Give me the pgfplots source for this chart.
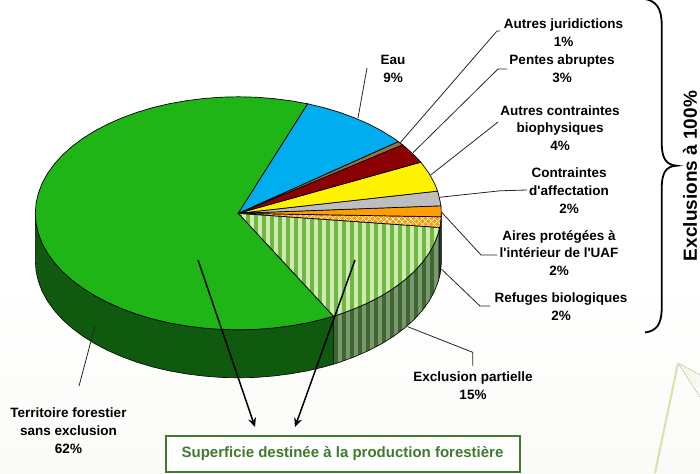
\documentclass[border=0pt]{standalone}
\usepackage{pgfplots}
\pgfplotsset{compat=1.18}
\usepackage{fontspec}
\setmainfont{Liberation Sans}
\newfontfamily\lib{Liberation Sans}
\usetikzlibrary{patterns.meta,arrows.meta}
\definecolor{cGreen}{HTML}{1FB516}
\definecolor{cDark}{HTML}{0F5A0E}
\definecolor{cBlue}{HTML}{00ADEF}
\definecolor{cBrown}{HTML}{A0703C}
\definecolor{cRed}{HTML}{8B0000}
\definecolor{cYellow}{HTML}{FFF200}
\definecolor{cGray}{HTML}{BEBEBE}
\definecolor{cOrange}{HTML}{FF9E00}
\definecolor{cLight}{HTML}{CFEBB4}
\definecolor{cStripe}{HTML}{70B840}
\definecolor{cWallA}{HTML}{7E9472}
\definecolor{cWallB}{HTML}{3C6A2E}
\definecolor{cBox}{HTML}{3F7A2D}
\definecolor{cBg}{HTML}{FAFAF7}
\definecolor{cDeco}{HTML}{D4E4A8}
\tikzset{lab/.style={font=\lib\bfseries\fontsize{13.5}{17.8}\selectfont,align=center,text=black,inner sep=0pt},
  lead/.style={draw=black!85,line width=0.8pt}}
\begin{document}
\begin{tikzpicture}
\begin{axis}[scale only axis,width=700pt,height=473pt,xmin=0,xmax=700,ymin=0,ymax=473,y dir=reverse,hide axis,clip=true]
% background
\fill[top color=white,bottom color=cBg,draw=none] (axis cs:0,280) rectangle (axis cs:700,473);
\fill[left color=cDeco!40,right color=cBg,draw=none] (axis cs:678,363) -- (axis cs:700,397) -- (axis cs:700,375) -- cycle;
\addplot[draw=cDeco,line width=2pt] coordinates {(678,363)(655,473)};
% walls
\addplot[fill=cDark,draw=black,line width=0.6pt] coordinates {(35.3,213.3)(36.1,223.5)(38.4,233.5)(42.2,243.5)(47.5,253.1)(54.3,262.5)(62.5,271.6)(72.0,280.1)(82.8,288.2)(94.8,295.7)(107.8,302.5)(121.9,308.7)(136.8,314.2)(152.5,318.9)(168.9,322.8)(185.8,325.8)(203.1,328.0)(220.6,329.4)(238.3,329.8)(256.0,329.4)(273.5,328.0)(290.8,325.8)(307.7,322.8)(324.1,318.9)(333.6,316.2)(333.6,364.2)(324.1,366.9)(307.7,370.8)(290.8,373.8)(273.5,376.0)(256.0,377.4)(238.3,377.8)(220.6,377.4)(203.1,376.0)(185.8,373.8)(168.9,370.8)(152.5,366.9)(136.8,362.2)(121.9,356.7)(107.8,350.5)(94.8,343.7)(82.8,336.2)(72.0,328.1)(62.5,319.6)(54.3,310.5)(47.5,301.1)(42.2,291.5)(38.4,281.5)(36.1,271.5)(35.3,261.3)} --cycle;
\addplot[fill=cWallA,draw=none] coordinates {(333.6,316.2)(339.8,314.2)(354.7,308.7)(368.8,302.5)(381.8,295.7)(393.8,288.2)(404.6,280.1)(414.1,271.6)(422.3,262.5)(429.1,253.1)(434.4,243.5)(438.2,233.5)(439.8,227.5)(439.8,275.5)(438.2,281.5)(434.4,291.5)(429.1,301.1)(422.3,310.5)(414.1,319.6)(404.6,328.1)(393.8,336.2)(381.8,343.7)(368.8,350.5)(354.7,356.7)(339.8,362.2)(333.6,364.2)} --cycle;
\addplot[pattern={Lines[angle=90,distance=8pt,line width=4.6pt]},pattern color=cWallB,draw=black,line width=0.6pt] coordinates {(333.6,316.2)(339.8,314.2)(354.7,308.7)(368.8,302.5)(381.8,295.7)(393.8,288.2)(404.6,280.1)(414.1,271.6)(422.3,262.5)(429.1,253.1)(434.4,243.5)(438.2,233.5)(439.8,227.5)(439.8,275.5)(438.2,281.5)(434.4,291.5)(429.1,301.1)(422.3,310.5)(414.1,319.6)(404.6,328.1)(393.8,336.2)(381.8,343.7)(368.8,350.5)(354.7,356.7)(339.8,362.2)(333.6,364.2)} --cycle;
\addplot[fill=black!80,draw=black,line width=0.6pt] coordinates {(439.8,227.5)(440.5,223.5)(441.2,216.8)(441.3,213.3)(441.3,261.3)(441.2,264.8)(440.5,271.5)(439.8,275.5)} --cycle;
% top slices
\addplot[fill=cGreen,draw=black,line width=0.7pt] coordinates {(238.3,213.3)(307.7,103.8)(290.8,100.8)(273.5,98.6)(256.0,97.2)(238.3,96.8)(220.6,97.2)(203.1,98.6)(185.8,100.8)(168.9,103.8)(152.5,107.7)(136.8,112.4)(121.9,117.9)(107.8,124.1)(94.8,130.9)(82.8,138.4)(72.0,146.5)(62.5,155.0)(54.3,164.1)(47.5,173.5)(42.2,183.1)(38.4,193.1)(36.1,203.1)(35.3,213.3)(36.1,223.5)(38.4,233.5)(42.2,243.5)(47.5,253.1)(54.3,262.5)(62.5,271.6)(72.0,280.1)(82.8,288.2)(94.8,295.7)(107.8,302.5)(121.9,308.7)(136.8,314.2)(152.5,318.9)(168.9,322.8)(185.8,325.8)(203.1,328.0)(220.6,329.4)(238.3,329.8)(256.0,329.4)(273.5,328.0)(290.8,325.8)(307.7,322.8)(324.1,318.9)(333.6,316.2)} --cycle;
\addplot[fill=cLight,draw=none] coordinates {(238.3,213.3)(333.6,316.2)(339.8,314.2)(354.7,308.7)(368.8,302.5)(381.8,295.7)(393.8,288.2)(404.6,280.1)(414.1,271.6)(422.3,262.5)(429.1,253.1)(434.4,243.5)(438.2,233.5)(439.8,227.5)} --cycle;
\addplot[pattern={Lines[angle=90,distance=8pt,line width=3.6pt]},pattern color=cStripe,draw=black,line width=0.7pt] coordinates {(238.3,213.3)(333.6,316.2)(339.8,314.2)(354.7,308.7)(368.8,302.5)(381.8,295.7)(393.8,288.2)(404.6,280.1)(414.1,271.6)(422.3,262.5)(429.1,253.1)(434.4,243.5)(438.2,233.5)(439.8,227.5)} --cycle;
\addplot[fill=cOrange,draw=none] coordinates {(238.3,213.3)(439.8,227.5)(440.5,223.5)(441.2,216.8)} --cycle;
\addplot[pattern={Lines[angle=45,distance=4pt,line width=0.8pt]},pattern color=white,draw=none] coordinates {(238.3,213.3)(439.8,227.5)(440.5,223.5)(441.2,216.8)} --cycle;
\addplot[pattern={Lines[angle=-45,distance=4pt,line width=0.8pt]},pattern color=white,draw=black,line width=0.7pt] coordinates {(238.3,213.3)(439.8,227.5)(440.5,223.5)(441.2,216.8)} --cycle;
\addplot[fill=cOrange,draw=black,line width=0.7pt] coordinates {(238.3,213.3)(441.2,216.8)(441.3,213.3)(440.9,205.8)} --cycle;
\addplot[fill=cGray,draw=black,line width=0.7pt] coordinates {(238.3,213.3)(440.9,205.8)(440.5,203.1)(438.2,193.1)(437.6,191.1)} --cycle;
\addplot[fill=cYellow,draw=black,line width=0.7pt] coordinates {(238.3,213.3)(437.6,191.1)(434.4,183.1)(429.1,173.5)(422.3,164.1)(420.8,162.2)} --cycle;
\addplot[fill=cRed,draw=black,line width=0.7pt] coordinates {(238.3,213.3)(420.8,162.2)(414.1,155.0)(404.6,146.5)(402.5,144.8)} --cycle;
\addplot[fill=cBrown,draw=black,line width=0.7pt] coordinates {(238.3,213.3)(402.5,144.8)(398.3,141.6)} --cycle;
\addplot[fill=cBlue,draw=black,line width=0.7pt] coordinates {(238.3,213.3)(398.3,141.6)(393.8,138.4)(381.8,130.9)(368.8,124.1)(354.7,117.9)(339.8,112.4)(324.1,107.7)(307.7,103.8)} --cycle;
% leaders
\addplot[lead] coordinates {(358,118)(367,68)};
\addplot[lead] coordinates {(400,143)(497,31)(500,31)};
\addplot[lead] coordinates {(413,152.7)(498,69)(507,69)};
\addplot[lead] coordinates {(430.7,175)(498,122)};
\addplot[lead] coordinates {(439.3,197.3)(500,190.8)(527,190)};
\addplot[lead] coordinates {(441.7,212.3)(481,255)(497,255)};
\addplot[lead] coordinates {(441.3,269)(480,306)(490,306)};
\addplot[lead] coordinates {(407.7,326.7)(472.7,352.3)(472.7,365.7)};
\addplot[lead] coordinates {(95,326)(79,386)};
% arrows
\addplot[black,line width=1.5pt,-{Stealth[length=9pt,width=8pt]}] coordinates {(198,260)(255,427)};
\addplot[black,line width=1.5pt,-{Stealth[length=9pt,width=8pt]}] coordinates {(355,260)(295,427)};
% brace
\draw[black,line width=1.8pt] (axis cs:645,-1) .. controls (axis cs:656,1) and (axis cs:661.7,8) .. (axis cs:661.7,25) -- (axis cs:661.7,143) .. controls (axis cs:661.7,158) and (axis cs:666,165) .. (axis cs:676.7,165.7) .. controls (axis cs:666,166) and (axis cs:661.7,173) .. (axis cs:661.7,188) -- (axis cs:661.7,308) .. controls (axis cs:661.7,325) and (axis cs:656,331) .. (axis cs:645,332.5);
% labels
\node[lab] at (axis cs:563.5,33) {Autres juridictions\\1\%};
\node[lab] at (axis cs:562,69) {Pentes abruptes\\3\%};
\node[lab] at (axis cs:560,128) {Autres contraintes\\biophysiques\\4\%};
\node[lab] at (axis cs:569,190.5) {Contraintes\\d'affectation\\2\%};
\node[lab] at (axis cs:559,253) {Aires protégées à\\l'intérieur de l'UAF\\2\%};
\node[lab] at (axis cs:561,307) {Refuges biologiques\\2\%};
\node[lab] at (axis cs:473,386) {Exclusion partielle\\15\%};
\node[lab] at (axis cs:393,69) {Eau\\9\%};
\node[lab] at (axis cs:68.5,430.5) {Territoire forestier\\sans exclusion\\62\%};
\node[font=\bfseries\fontsize{19}{21}\selectfont,rotate=90,inner sep=0pt] at (axis cs:690,176) {Exclusions à 100\%};
\draw[draw=cBox,line width=2pt,fill=white] (axis cs:165.5,435.5) rectangle (axis cs:520,471.5);
\node[font=\bfseries\fontsize{15}{18}\selectfont,text=cBox,inner sep=0pt] at (axis cs:342.5,453.5) {Superficie destinée à la production forestière};
\end{axis}
\end{tikzpicture}
\end{document}
